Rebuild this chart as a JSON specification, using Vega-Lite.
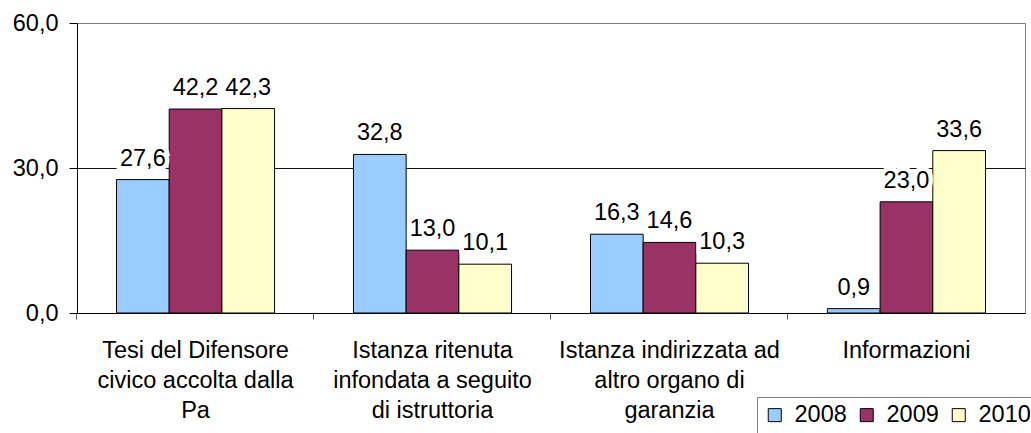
{
  "$schema": "https://vega.github.io/schema/vega-lite/v6.json",
  "autosize": {"type": "none"},
  "padding": {"left": 77, "top": 23, "right": 6, "bottom": 120},
  "width": 948,
  "height": 290,
  "data": {
    "values": [
      {"cat": "Tesi del Difensore\ncivico accolta dalla\nPa", "year": "2008", "value": 27.6},
      {"cat": "Tesi del Difensore\ncivico accolta dalla\nPa", "year": "2009", "value": 42.2},
      {"cat": "Tesi del Difensore\ncivico accolta dalla\nPa", "year": "2010", "value": 42.3},
      {"cat": "Istanza ritenuta\ninfondata a seguito\ndi istruttoria", "year": "2008", "value": 32.8},
      {"cat": "Istanza ritenuta\ninfondata a seguito\ndi istruttoria", "year": "2009", "value": 13.0},
      {"cat": "Istanza ritenuta\ninfondata a seguito\ndi istruttoria", "year": "2010", "value": 10.1},
      {"cat": "Istanza indirizzata ad\naltro organo di\ngaranzia", "year": "2008", "value": 16.3},
      {"cat": "Istanza indirizzata ad\naltro organo di\ngaranzia", "year": "2009", "value": 14.6},
      {"cat": "Istanza indirizzata ad\naltro organo di\ngaranzia", "year": "2010", "value": 10.3},
      {"cat": "Informazioni", "year": "2008", "value": 0.9},
      {"cat": "Informazioni", "year": "2009", "value": 23.0},
      {"cat": "Informazioni", "year": "2010", "value": 33.6}
    ]
  },
  "encoding": {
    "x": {
      "field": "cat", "type": "nominal", "sort": null, "title": null,
      "scale": {"paddingInner": 0.333, "paddingOuter": 0.1667},
      "axis": {
        "labelAngle": 0, "labelFont": "Liberation Sans", "labelFontSize": 23.5,
        "labelColor": "black", "labelLineHeight": 30, "labelPadding": 19,
        "labelLimit": 0, "labelExpr": "split(datum.label, '\\n')",
        "tickSize": 6, "tickColor": "#555555", "domainColor": "black",
        "bandPosition": -0.25, "labelBound": false, "labelOverlap": false
      }
    },
    "xOffset": {"field": "year", "type": "nominal", "scale": {"paddingInner": 0, "paddingOuter": 0}},
    "y": {
      "field": "value", "type": "quantitative", "title": null,
      "scale": {"domain": [0, 60], "nice": false},
      "axis": {
        "values": [0, 30, 60], "format": ".1f", "labelFont": "Liberation Sans",
        "labelFontSize": 23.5, "labelColor": "black", "tickSize": 8, "labelPadding": 11,
        "tickColor": "black", "domainColor": "black", "grid": true,
        "gridColor": {"condition": {"test": "datum.value == 60", "value": "#808080"}, "value": "#111111"},
        "gridOpacity": 1
      }
    }
  },
  "layer": [
    {
      "mark": {"type": "bar", "stroke": "black", "strokeWidth": 1},
      "encoding": {
        "color": {
          "field": "year", "type": "nominal",
          "scale": {"domain": ["2008", "2009", "2010"], "range": ["#99CCFF", "#993366", "#FFFFCC"]},
          "legend": {
            "title": null, "orient": "none", "legendX": 680, "legendY": 374,
            "direction": "horizontal", "symbolType": "square", "symbolSize": 169,
            "symbolStrokeColor": "black", "symbolStrokeWidth": 1, "symbolOpacity": 1,
            "labelFont": "Liberation Sans", "labelFontSize": 23.5, "labelColor": "black",
            "labelOffset": 8, "columnPadding": 8, "padding": 6,
            "strokeColor": "#808080", "fillColor": "white"
          }
        }
      }
    },
    {
      "mark": {"type": "text", "baseline": "alphabetic", "dy": -14, "font": "Liberation Sans", "fontSize": 23.5, "fill": "white", "stroke": "white", "strokeWidth": 9},
      "encoding": {"text": {"field": "value", "type": "quantitative", "format": ".1f"}}
    },
    {
      "mark": {"type": "text", "baseline": "alphabetic", "dy": -14, "font": "Liberation Sans", "fontSize": 23.5, "color": "black"},
      "encoding": {"text": {"field": "value", "type": "quantitative", "format": ".1f"}}
    }
  ],
  "config": {
    "locale": {"number": {"decimal": ",", "thousands": ".", "grouping": [3], "currency": ["€", ""]}},
    "view": {"stroke": "#808080", "strokeWidth": 1}
  }
}
